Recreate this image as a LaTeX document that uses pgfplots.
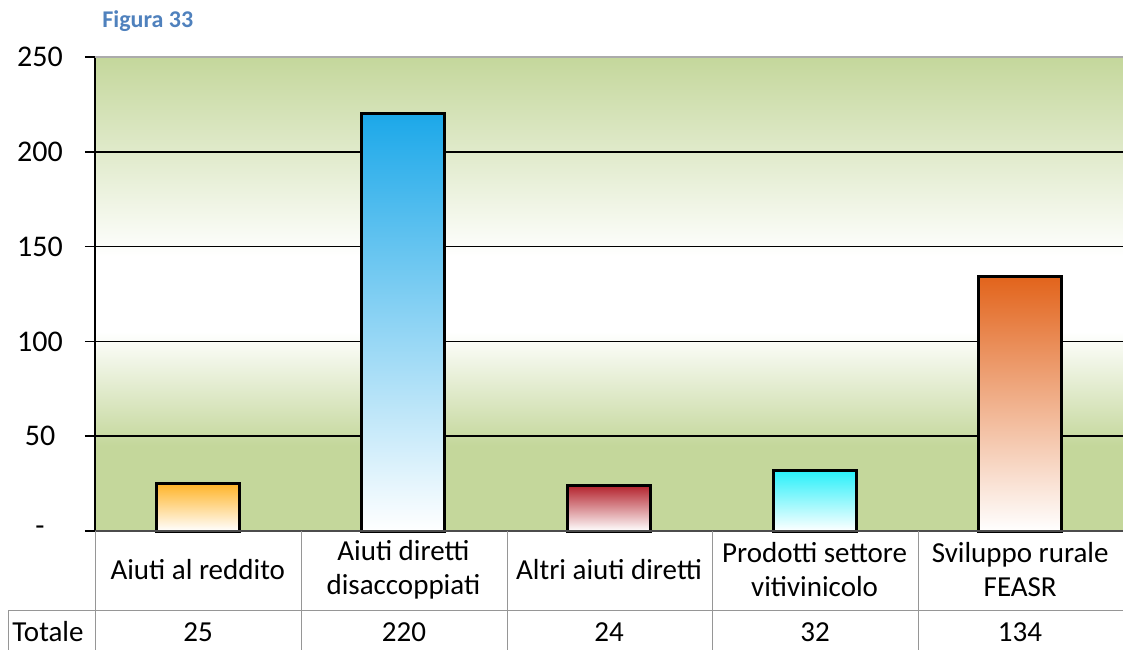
\documentclass[border=0pt]{standalone}
\usepackage{fontspec}
\setmainfont{Carlito}
\usepackage{pgfplots}
\pgfplotsset{compat=1.18}
\definecolor{bggreen}{RGB}{196,215,155}
\definecolor{figblue}{RGB}{79,129,189}
\definecolor{cA}{RGB}{255,180,40}
\definecolor{cB}{RGB}{28,168,233}
\definecolor{cC}{RGB}{180,35,45}
\definecolor{cD}{RGB}{40,240,250}
\definecolor{cE}{RGB}{226,100,28}
\definecolor{tabgray}{RGB}{150,150,150}
\pgfdeclareverticalshading{bgshade}{100bp}{color(0bp)=(bggreen); color(25bp)=(bggreen); color(34bp)=(bggreen); color(46bp)=(white); color(54bp)=(white); color(75bp)=(bggreen); color(100bp)=(bggreen)}
\begin{document}
\begin{tikzpicture}[x=0.5pt,y=0.5pt]
\useasboundingbox (0,0) rectangle (1123,650);
\node[anchor=west, font=\fontsize{12}{14}\selectfont\bfseries, text=figblue, inner sep=0pt] at (102,629) {Figura 33};
\begin{axis}[
  at={(47.5pt,59.5pt)}, anchor=south west,
  scale only axis, width=514pt, height=237pt,
  xmin=-0.5, xmax=4.5, ymin=0, ymax=250,
  axis line style={draw=none},
  axis background/.style={shade, shading=bgshade},
  ytick={0,50,100,150,200,250},
  yticklabels={-,50,100,150,200,250},
  tick align=outside, major tick length=5pt,
  ytick style={black, line width=0.75pt},
  yticklabel style={anchor=center, xshift=-22.5pt, font=\fontsize{15}{17}\selectfont},
  xtick={0,1,2,3,4},
  xtick style={draw=none},
  xticklabels={Aiuti al reddito, Aiuti diretti\\disaccoppiati, Altri aiuti diretti, Prodotti settore\\vitivinicolo, Sviluppo rurale\\FEASR},
  xticklabel style={anchor=center, align=center, yshift=-14.5pt, font=\fontsize{14.5}{17}\selectfont},
  ymajorgrids, grid style={black, line width=0.75pt},
  clip=false,
]
\addplot[ybar, bar width=41.5pt, bar shift=0pt, draw=black, line width=1.5pt, top color=cA, bottom color=white] coordinates {(0,25)};
\addplot[ybar, bar width=41.5pt, bar shift=0pt, draw=black, line width=1.5pt, top color=cB, bottom color=white] coordinates {(1,220)};
\addplot[ybar, bar width=41.5pt, bar shift=0pt, draw=black, line width=1.5pt, top color=cC, bottom color=white] coordinates {(2,24)};
\addplot[ybar, bar width=41.5pt, bar shift=0pt, draw=black, line width=1.5pt, top color=cD, bottom color=white] coordinates {(3,32)};
\addplot[ybar, bar width=41.5pt, bar shift=0pt, draw=black, line width=1.5pt, top color=cE, bottom color=white] coordinates {(4,134)};
\draw[black, line width=0.75pt] (rel axis cs:0,0) -- (rel axis cs:0,1);
\draw[tabgray!80!white, line width=0.75pt] (rel axis cs:0,1) -- (rel axis cs:1,1);
\draw[black!70, line width=0.75pt] (rel axis cs:0,0) -- (rel axis cs:1,0);
\end{axis}
% data table grid
\begin{scope}[tabgray, line width=0.5pt]
\draw (95,119) -- (95,0);
\foreach \xx in {301,507,712,918} \draw (\xx,119) -- (\xx,0);
\draw (8,40) -- (1123,40);
\draw (8,40) -- (8,0);
\end{scope}
\begin{scope}[font=\fontsize{14.5}{17}\selectfont]
\node at (48,18) {Totale};
\node at (198,18) {25};
\node at (404,18) {220};
\node at (609,18) {24};
\node at (815,18) {32};
\node at (1020,18) {134};
\end{scope}
\end{tikzpicture}
\end{document}
